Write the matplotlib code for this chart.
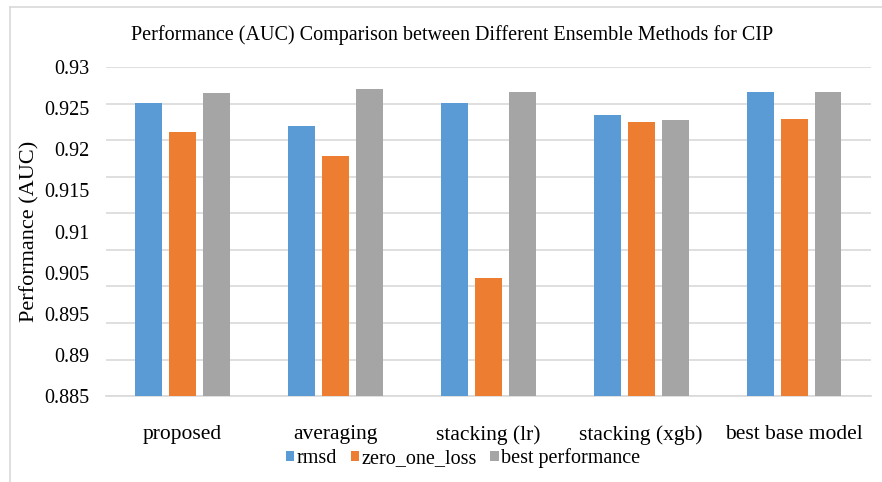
import matplotlib
matplotlib.use("Agg")
import matplotlib.pyplot as plt
from matplotlib.lines import Line2D
import numpy as np

categories = ["proposed", "averaging", "stacking (lr)", "stacking (xgb)", "best base model"]
rmsd = [0.9251, 0.9220, 0.9251, 0.9235, 0.9266]
zero_one_loss = [0.9211, 0.9179, 0.9011, 0.9225, 0.9229]
best_performance = [0.9264, 0.9270, 0.9266, 0.9227, 0.9266]
series_names = ["rmsd", "zero_one_loss", "best performance"]
# tick labels as printed on the original (the 0.9 label is absent there)
ytick_labels = ["0.885", "0.89", "0.895", "0.905", "0.91", "0.915", "0.92", "0.925", "0.93"]

colors = ["#5B9BD5", "#ED7D31", "#A5A5A5"]
grid_color = "#D9D9D9"
font = "Liberation Serif"

fig = plt.figure(figsize=(8.82, 4.82), dpi=100)
ax = fig.add_axes([0.120, 0.178, 0.867, 0.683])

x = np.arange(len(categories))
width = 0.176
step = 0.222
for i, (vals, name) in enumerate(zip([rmsd, zero_one_loss, best_performance], series_names)):
    ax.bar(x + (i - 1) * step, vals, width, color=colors[i], label=name, zorder=3)

ax.set_xlim(-0.5, len(categories) - 0.5)
ax.set_ylim(0.885, 0.93)
ax.set_yticks(np.arange(0.885, 0.93001, 0.005))
ax.set_yticklabels([])
ax.yaxis.grid(True, color=grid_color, linewidth=1.2, zorder=0)
ax.tick_params(axis="y", length=0)
ax.tick_params(axis="x", length=0, pad=21)
ax.set_xticks(x)
ax.set_xticklabels(categories, fontsize=15.5, family=font)
for s in ["top", "right", "left"]:
    ax.spines[s].set_visible(False)
ax.spines["bottom"].set_color(grid_color)
ax.spines["bottom"].set_linewidth(1.2)

# labels evenly spread along the axis, as in the original
ax2 = ax.twinx()
ax2.set_ylim(0, len(ytick_labels) - 1)
ax2.yaxis.tick_left()
ax2.set_yticks(np.arange(len(ytick_labels)))
ax2.set_yticklabels(ytick_labels, fontsize=14.5, family=font)
ax2.tick_params(axis="y", length=0, pad=12)
for s in ax2.spines.values():
    s.set_visible(False)

ax.set_ylabel("Performance (AUC)", fontsize=16, family=font, labelpad=44)

fig.text(0.512, 0.928, "Performance (AUC) Comparison between Different Ensemble Methods for CIP",
         ha="center", va="center", fontsize=14.5, family=font)

ax.legend(loc="center", bbox_to_anchor=(0.525, 0.05), bbox_transform=fig.transFigure,
          ncol=3, frameon=False, prop={"family": font, "size": 14.5},
          handlelength=0.4, handleheight=0.4, handletextpad=0.1, columnspacing=0.7)

# chart frame (top and left edges only visible)
fig.add_artist(Line2D([10 / 882, 1], [1 - 7 / 482, 1 - 7 / 482], transform=fig.transFigure,
                      color=grid_color, linewidth=1.2))
fig.add_artist(Line2D([10 / 882, 10 / 882], [0, 1 - 7 / 482], transform=fig.transFigure,
                      color=grid_color, linewidth=1.2))

fig.savefig("out.png", dpi=100, facecolor="white")
